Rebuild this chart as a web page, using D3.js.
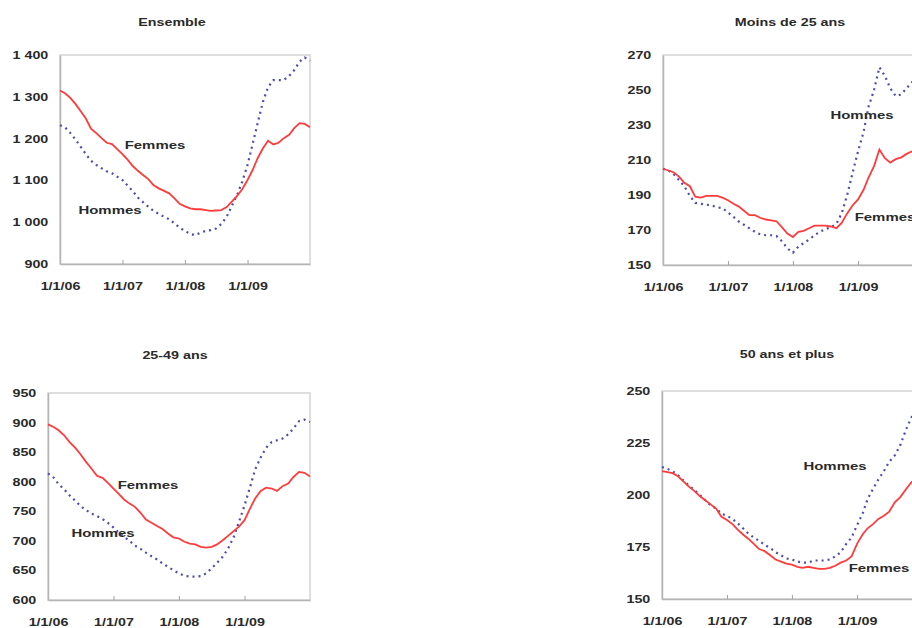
<!DOCTYPE html>
<html>
<head>
<meta charset="utf-8">
<script src="https://cdn.jsdelivr.net/npm/d3@7"></script>
<style>
  body { margin: 0; background: #fff; }
  svg { display: block; }
  text { font-family: Arial, "Liberation Sans", sans-serif; font-weight: bold; fill: #2a2a2a; }
</style>
</head>
<body>
<script>
// monthly points, Jan 2006 .. Jan 2010
const months = d3.range(49).map(i => new Date(2006, i, 1));
const xTickDates = [new Date(2006, 0, 1), new Date(2007, 0, 1), new Date(2008, 0, 1), new Date(2009, 0, 1)];
const xTickLabels = ['1/1/06', '1/1/07', '1/1/08', '1/1/09'];

const titles = ['Ensemble', 'Moins de 25 ans', '25-49 ans', '50 ans et plus'];

const ensembleFemmes = [1315,1308,1298,1283,1266,1248,1224,1213,1201,1190,1187,1175,1163,1149,1135,1123,1113,1103,1089,1081,1075,1069,1057,1044,1038,1033,1031,1031,1029,1027,1028,1029,1036,1049,1063,1079,1101,1126,1153,1177,1195,1186,1190,1201,1209,1225,1237,1235,1227];
const ensembleHommes = [1232,1226,1214,1198,1181,1163,1147,1137,1129,1122,1117,1109,1101,1087,1075,1059,1048,1037,1027,1020,1013,1007,997,987,979,972,969,975,979,981,985,996,1013,1039,1065,1097,1137,1189,1237,1288,1323,1340,1340,1340,1350,1364,1384,1394,1386];

const moins25Femmes = [205,204,203,200.5,197,195,189,188.5,189.5,189.5,189.5,188.5,187,185,183.5,181,178.5,178.5,177,176,175.5,175,171.5,168,166,169,169.5,171,172.5,172.5,172.5,172,171,174,179.5,184,187.5,193,200,206.5,216,211,208.5,210.5,211.5,213.5,215,215.5,215];
const moins25Hommes = [205,204,202,198.5,195,189.5,185.5,185,184.5,184,183,182.5,180,177.5,175,173,171,169,167.5,167,167,166.5,163.5,159.5,157,160.5,162.5,164.5,167,169,170.5,171.5,173.5,179.5,190,202.5,215,226,240.5,250,263,258,251,246.5,247.5,251,254.5,257,259];

const age2549Femmes = [897,892.5,887,878.5,867,857.5,846.5,833.5,822,810,806.5,798,788.5,779,770,763,757.5,747.5,736,730.5,725,720,712.5,706,704,698.5,695.5,694,690,688.5,690,694,701,708.5,716.5,724,735,755,771.5,784.5,790,788.5,784.5,792.5,797,808,816.5,815,809];
const age2549Hommes = [814,807,796,787,777,768,759,752,746,742,737,730.5,722.5,713.5,707,700,692,686.5,680,674,668.5,662,656,650.5,645,641,639.5,639.5,640.5,645,653.5,663,673,687,706,732,760,791,820.5,841,857.5,867,870,873,880,890,902.5,905,901];

const plus50Femmes = [211.5,211,210.5,209,206.5,204,202,199.5,197.5,195.5,193.5,189.5,188,186,183.5,181,179,176.5,174,173,171,169,168,167,166.5,165.5,165,165.5,165,164.5,164.5,165,166,167.5,168.5,170.5,176.5,181,184,186,188.5,190,192,196.5,199,202.5,206,208.5,211];
const plus50Hommes = [213.5,212.5,211.5,209.5,207,204.5,202.5,200,197.5,195,193.5,191,190,188.5,186.5,184,181.5,179.5,178,176,174.5,172.5,171,169.5,169,168,167.5,167.5,168.5,168.5,168.5,169,170.5,172.5,176.5,179.5,185.5,191,198,203,207.5,211.5,216,219,224,231,237,242,246];

const yTicks1 = [900, 1000, 1100, 1200, 1300, 1400];
const yTicks2 = [150, 170, 190, 210, 230, 250, 270];
const yTicks3 = [600, 650, 700, 750, 800, 850, 900, 950];
const yTicks4 = [150, 175, 200, 225, 250];

const seriesNames = ['Femmes', 'Hommes'];

// panel layout (plot area boxes) and label spots
const panels = [
  { title: titles[0], femmes: ensembleFemmes, hommes: ensembleHommes, ticks: yTicks1,
    box: { left: 60, top: 55, right: 310, bottom: 264 }, titleX: 172, titleY: 26,
    fmt: d => d >= 1000 ? String(d).replace(/^(\d)(\d{3})$/, '$1 $2') : String(d),
    femLab: [155, 145], homLab: [110, 210] },
  { title: titles[1], femmes: moins25Femmes, hommes: moins25Hommes, ticks: yTicks2,
    box: { left: 663, top: 55, right: 923, bottom: 265 }, titleX: 790, titleY: 26,
    fmt: String, femLab: [885, 217], homLab: [862, 115] },
  { title: titles[2], femmes: age2549Femmes, hommes: age2549Hommes, ticks: yTicks3,
    box: { left: 48, top: 393, right: 310, bottom: 600 }, titleX: 175, titleY: 359,
    fmt: String, femLab: [148, 485], homLab: [103, 533] },
  { title: titles[3], femmes: plus50Femmes, hommes: plus50Hommes, ticks: yTicks4,
    box: { left: 662, top: 391, right: 922, bottom: 599 }, titleX: 787, titleY: 358,
    fmt: String, femLab: [879, 568], homLab: [835, 466] }
];

const sx = 1.3; // text in the source is stretched sideways

const svg = d3.select('body').append('svg')
  .attr('width', 912)
  .attr('height', 628);

panels.forEach(p => {
  const b = p.box;
  const x = d3.scaleTime()
    .domain([months[0], months[months.length - 1]])
    .range([b.left, b.right]);
  const y = d3.scaleLinear()
    .domain(d3.extent(p.ticks))
    .range([b.bottom, b.top]);

  const g = svg.append('g');

  // plot frame
  g.append('rect')
    .attr('x', b.left).attr('y', b.top)
    .attr('width', b.right - b.left).attr('height', b.bottom - b.top)
    .attr('fill', 'none')
    .attr('stroke', '#d4d4d4')
    .attr('stroke-width', 1.5);

  // x axis
  const xa = g.append('g')
    .attr('transform', `translate(0,${b.bottom})`)
    .call(d3.axisBottom(x).tickValues(xTickDates)
      .tickFormat((d, i) => xTickLabels[i]).tickSizeInner(-4).tickSizeOuter(0));
  xa.select('.domain').attr('stroke', '#b4b4b4').attr('stroke-width', 1.5);
  xa.selectAll('.tick line').attr('stroke', '#a0a0a0');
  xa.selectAll('.tick text')
    .attr('y', 22).attr('dy', '0.35em')
    .attr('transform', `scale(${sx},1)`)
    .style('font-size', '11px').attr('fill', '#2a2a2a');

  // y axis
  const ya = g.append('g')
    .attr('transform', `translate(${b.left},0)`)
    .call(d3.axisLeft(y).tickValues(p.ticks).tickFormat(p.fmt).tickSize(0));
  ya.select('.domain').attr('stroke', '#b4b4b4').attr('stroke-width', 1.5);
  ya.selectAll('.tick text')
    .attr('x', -9)
    .attr('transform', `scale(${sx},1)`)
    .style('font-size', '11px').attr('fill', '#2a2a2a');

  const line = d3.line()
    .x((d, i) => x(months[i]))
    .y(d => y(d));

  g.append('path')
    .datum(p.hommes)
    .attr('d', line)
    .attr('fill', 'none')
    .attr('stroke', '#4c4cb0')
    .attr('stroke-width', 2.2)
    .attr('stroke-dasharray', '2,4');

  g.append('path')
    .datum(p.femmes)
    .attr('d', line)
    .attr('fill', 'none')
    .attr('stroke', '#ff3b3b')
    .attr('stroke-width', 1.8);

  // title
  g.append('text')
    .attr('transform', `translate(${p.titleX},${p.titleY}) scale(${sx},1)`)
    .attr('text-anchor', 'middle')
    .style('font-size', '11px')
    .text(p.title);

  // series labels
  [[seriesNames[0], p.femLab], [seriesNames[1], p.homLab]].forEach(([name, pos]) => {
    g.append('text')
      .attr('transform', `translate(${pos[0]},${pos[1]}) scale(${sx},1)`)
      .attr('text-anchor', 'middle')
      .attr('dy', '0.35em')
      .style('font-size', '11.5px')
      .text(name);
  });
});
</script>
</body>
</html>
